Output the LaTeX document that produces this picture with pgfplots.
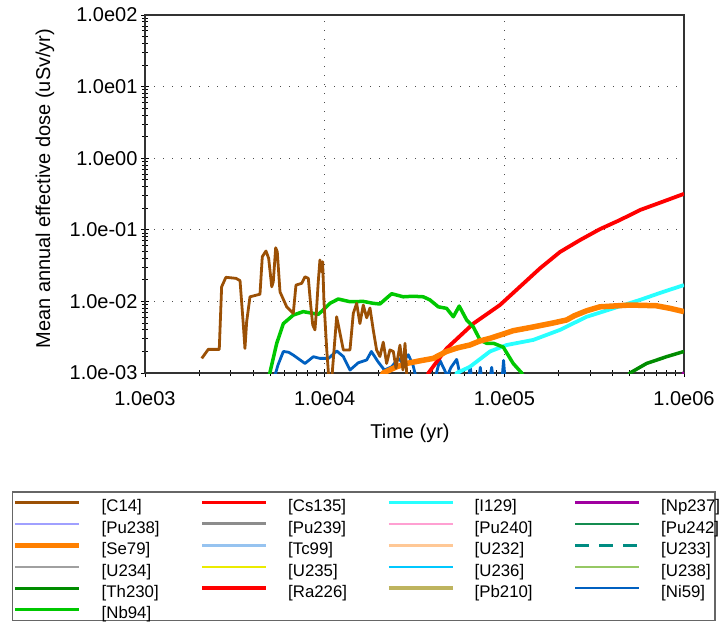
\documentclass[border=0pt]{standalone}
\usepackage{pgfplots}
\pgfplotsset{compat=1.18}
\usepackage{fontspec}
\setmainfont{Liberation Sans}
\definecolor{cC14}{RGB}{155,80,5}
\definecolor{cPu238}{RGB}{160,160,255}
\definecolor{cSe79}{RGB}{255,128,0}
\definecolor{cU234}{RGB}{160,160,160}
\definecolor{cTh230}{RGB}{0,140,0}
\definecolor{cNb94}{RGB}{0,200,0}
\definecolor{cCs135}{RGB}{255,0,0}
\definecolor{cPu239}{RGB}{140,140,140}
\definecolor{cTc99}{RGB}{150,195,240}
\definecolor{cU235}{RGB}{235,235,0}
\definecolor{cRa226}{RGB}{255,0,0}
\definecolor{cI129}{RGB}{40,255,255}
\definecolor{cPu240}{RGB}{255,160,210}
\definecolor{cU232}{RGB}{255,200,150}
\definecolor{cU236}{RGB}{0,200,255}
\definecolor{cPb210}{RGB}{190,180,95}
\definecolor{cNp237}{RGB}{160,0,160}
\definecolor{cPu242}{RGB}{20,140,80}
\definecolor{cU233}{RGB}{0,140,130}
\definecolor{cU238}{RGB}{150,200,100}
\definecolor{cNi59}{RGB}{0,96,192}
\newcommand\LE[2][99pt]{\makebox[#1][l]{\rule[-1.14pt]{0pt}{21.08pt}\smash{#2}}}
\begin{document}
\begin{tikzpicture}
\useasboundingbox (-145pt,-251pt) rectangle (575pt,373pt);
\begin{axis}[
  at={(0pt,0pt)}, anchor=south west,
  scale only axis, width=539pt, height=358pt,
  xmode=log, ymode=log,
  xmin=1e3, xmax=1e6, ymin=1e-3, ymax=1e2,
  xtick={1e3,1e4,1e5,1e6},
  xticklabels={1.0e03,1.0e04,1.0e05,1.0e06},
  ytick={1e-3,1e-2,1e-1,1,10,100},
  yticklabels={1.0e-03,1.0e-02,1.0e-01,1.0e00,1.0e01,1.0e02},
  minor xtick={2e3,3e3,4e3,5e3,6e3,7e3,8e3,9e3,2e4,3e4,4e4,5e4,6e4,7e4,8e4,9e4,2e5,3e5,4e5,5e5,6e5,7e5,8e5,9e5},
  minor ytick={2e-3,3e-3,4e-3,5e-3,6e-3,7e-3,8e-3,9e-3,2e-2,3e-2,4e-2,5e-2,6e-2,7e-2,8e-2,9e-2,0.2,0.3,0.4,0.5,0.6,0.7,0.8,0.9,2,3,4,5,6,7,8,9,20,30,40,50,60,70,80,90},
  xtick pos=bottom, ytick pos=left,
  tick align=center,
  major tick length=8pt, minor tick length=6pt,
  tick style={black, line width=0.9pt},
  axis line style={line width=1.3pt, black!80},
  grid=major,
  major grid style={black!70, line width=1pt, dash pattern=on 1.2pt off 7.8pt},
  ticklabel style={font=\fontsize{20}{24}\selectfont},
  xticklabel style={yshift=-11pt},
  label style={font=\fontsize{20}{24}\selectfont},
  xlabel={Time (yr)},
  ylabel={Mean annual effective dose (uSv/yr)},
  xlabel style={at={(axis description cs:0.4917,-0.1676)}, anchor=center},
  ylabel style={at={(axis description cs:-0.1855,0.515)}, anchor=center},
  legend columns=4,
  legend cell align=left,
  legend image code/.code={\draw[#1] (0pt,0pt) -- (64pt,0pt);},
  legend style={at={(axis description cs:-0.2468,-0.3296)}, anchor=north west,
    draw=black!60, line width=1.5pt,
    font=\fontsize{16.8}{20}\selectfont,
    inner xsep=0pt, inner ysep=0pt,
    column sep=0pt, row sep=0pt,
    /tikz/every odd column/.append style={column sep=20pt},
    nodes={inner sep=0pt}},
]
% legend (row-wise order of the 4-column legend)
\addlegendimage{draw=cC14, line width=2.5pt}\addlegendentry{\LE{[C14]}}
\addlegendimage{draw=cCs135, line width=2.5pt}\addlegendentry{\LE{[Cs135]}}
\addlegendimage{draw=cI129, line width=3.5pt}\addlegendentry{\LE{[I129]}}
\addlegendimage{draw=cNp237, line width=3.5pt}\addlegendentry{\LE[54pt]{[Np237]}}
\addlegendimage{draw=cPu238, line width=2pt}\addlegendentry{\LE{[Pu238]}}
\addlegendimage{draw=cPu239, line width=3pt}\addlegendentry{\LE{[Pu239]}}
\addlegendimage{draw=cPu240, line width=2.5pt}\addlegendentry{\LE{[Pu240]}}
\addlegendimage{draw=cPu242, line width=2.5pt}\addlegendentry{\LE[54pt]{[Pu242]}}
\addlegendimage{draw=cSe79, line width=5pt}\addlegendentry{\LE{[Se79]}}
\addlegendimage{draw=cTc99, line width=3pt}\addlegendentry{\LE{[Tc99]}}
\addlegendimage{draw=cU232, line width=2.5pt}\addlegendentry{\LE{[U232]}}
\addlegendimage{draw=cU233, line width=3.5pt, dash pattern=on 13.5pt off 10.5pt}\addlegendentry{\LE[54pt]{[U233]}}
\addlegendimage{draw=cU234, line width=2.5pt}\addlegendentry{\LE{[U234]}}
\addlegendimage{draw=cU235, line width=2.5pt}\addlegendentry{\LE{[U235]}}
\addlegendimage{draw=cU236, line width=2.5pt}\addlegendentry{\LE{[U236]}}
\addlegendimage{draw=cU238, line width=2.5pt}\addlegendentry{\LE[54pt]{[U238]}}
\addlegendimage{draw=cTh230, line width=3pt}\addlegendentry{\LE{[Th230]}}
\addlegendimage{draw=cRa226, line width=3.5pt}\addlegendentry{\LE{[Ra226]}}
\addlegendimage{draw=cPb210, line width=3.5pt}\addlegendentry{\LE{[Pb210]}}
\addlegendimage{draw=cNi59, line width=2.5pt}\addlegendentry{\LE[54pt]{[Ni59]}}
\addlegendimage{draw=cNb94, line width=3pt}\addlegendentry{\LE{[Nb94]}}
% data
\addplot[forget plot, cNi59, line width=2.8pt, line join=round] coordinates {
(5200,8e-4)(5500,1.3e-3)(5890,2.0e-3)(6300,1.95e-3)(6690,1.78e-3)(7770,1.36e-3)
(8650,1.69e-3)(9410,1.6e-3)(10500,1.6e-3)(11670,2.03e-3)(12700,1.7e-3)(13830,1.1e-3)
(15380,1.39e-3)(17130,1.52e-3)(18200,2.0e-3)(19800,1.44e-3)(21500,1.1e-3)(23600,1.22e-3)
(25700,1.6e-3)(27000,1.4e-3)(29200,1.8e-3)(31000,1.3e-3)(32500,8e-4)
(41000,8e-4)(43700,1.52e-3)(46500,1.1e-3)(48000,9e-4)(50500,1.2e-3)(54300,1.55e-3)(57500,8e-4)
(63000,8e-4)(64500,1.25e-3)(66000,8e-4)(72000,8e-4)(73500,1.2e-3)(75000,8e-4)
(83000,8e-4)(85000,1.2e-3)(87000,8e-4)(97000,8e-4)(99000,1.5e-3)(101000,8e-4)};
\addplot[forget plot, cI129, line width=3.8pt, line join=round] coordinates {
(53000,8e-4)(54300,1e-3)(64300,1.22e-3)(83200,2.0e-3)(103000,2.46e-3)(145000,2.9e-3)
(204000,4.0e-3)(287000,6.1e-3)(404000,8.0e-3)(569000,1.05e-2)(766000,1.36e-2)(1000000,1.69e-2)};
\addplot[forget plot, cRa226, line width=3.8pt, line join=round] coordinates {
(37000,8e-4)(37800,1e-3)(47700,2.2e-3)(67200,4.9e-3)(94500,8.9e-3)(122000,1.6e-2)
(158000,2.9e-2)(204000,4.9e-2)(264000,7.2e-2)(340000,0.102)(440000,0.137)(569000,0.189)
(735000,0.239)(1000000,0.318)};
\addplot[forget plot, cNb94, line width=3.5pt, line join=round] coordinates {
(4850,8e-4)(5410,2.6e-3)(5890,4.9e-3)(6690,6.45e-3)(7600,7.2e-3)(9210,6.6e-3)(9820,7.6e-3)
(10700,9.4e-3)(11900,1.08e-2)(13830,9.9e-3)(16400,1.0e-2)(18640,9.4e-3)(20300,9.2e-3)
(22000,1.1e-2)(23600,1.28e-2)(27370,1.16e-2)(31100,1.18e-2)(35400,1.16e-2)(38530,1.05e-2)(42900,8.4e-3)
(47700,8.0e-3)(52000,6.1e-3)(56100,8.6e-3)(61700,5.5e-3)(67200,4.4e-3)(73200,2.9e-3)
(79700,2.6e-3)(87000,2.6e-3)(98600,2.3e-3)(112000,1.36e-3)(125000,1e-3)(128000,8e-4)};
\addplot[forget plot, cTh230, line width=3.5pt, line join=round] coordinates {
(480000,8e-4)(500000,1e-3)(619000,1.36e-3)(800000,1.69e-3)(1000000,2.0e-3)};
\addplot[forget plot, cNp237, line width=3.5pt] coordinates {(985000,9e-4)(1000000,1.03e-3)};
\addplot[forget plot, cSe79, line width=5.5pt, line join=round] coordinates {
(20500,8e-4)(21190,1.0e-3)(25100,1.22e-3)(28600,1.36e-3)(33900,1.48e-3)(40200,1.6e-3)
(47700,2.0e-3)(55000,2.25e-3)(64300,2.46e-3)(73000,2.8e-3)(83200,3.05e-3)(95000,3.4e-3)
(112000,3.9e-3)(145000,4.4e-3)(187000,5.0e-3)(222000,5.5e-3)(245000,6.3e-3)(287000,7.4e-3)
(340000,8.4e-3)(500000,8.9e-3)(700000,8.7e-3)(836000,8.0e-3)(1000000,7.2e-3)};
\addplot[forget plot, cC14, line width=2.8pt, line join=round] coordinates {
(2070,1.6e-3)(2250,2.14e-3)(2590,2.14e-3)(2670,1.6e-2)(2820,2.17e-2)(3210,2.1e-2)(3380,1.95e-2)
(3520,5e-3)(3600,2.2e-3)(3680,5.2e-3)(3840,1.16e-2)(4365,1.26e-2)(4496,4.21e-2)(4713,5.06e-2)
(4878,4.0e-2)(5074,1.6e-2)(5176,1.88e-2)(5337,5.62e-2)(5447,4.94e-2)(5641,1.36e-2)(6146,8.4e-3)
(6687,6.8e-3)(6923,1.69e-2)(7449,1.79e-2)(7770,2.21e-2)(8110,2.1e-2)(8360,8.9e-3)(8580,4.7e-3)
(8830,4.0e-3)(9020,8.0e-3)(9210,1.88e-2)(9410,3.79e-2)(9610,2.6e-2)(9740,3.59e-2)(9910,9.9e-3)
(10260,2.2e-3)(10560,8e-4)(10940,8e-4)(11660,6.1e-3)(12170,3.6e-3)(12700,2.1e-3)(13830,2.1e-3)
(14430,6.8e-3)(15070,9.4e-3)(15710,4.9e-3)(16400,8.9e-3)(17130,5.9e-3)(17870,8.1e-3)
(18640,4.0e-3)(19450,2.1e-3)(20300,1.7e-3)(21190,2.7e-3)(22120,1.36e-3)(23070,2.1e-3)
(24100,2.0e-3)(24940,1.17e-3)(26240,2.45e-3)(27270,1.1e-3)(28000,2.6e-3)(28730,8e-4)};
\end{axis}
\end{tikzpicture}
\end{document}
